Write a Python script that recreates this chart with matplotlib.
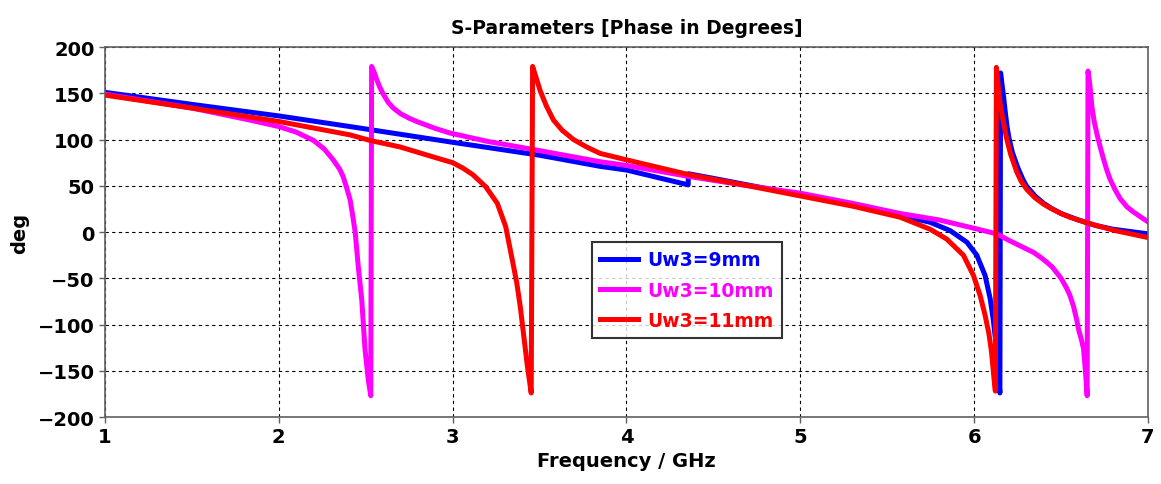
import matplotlib.pyplot as plt

# Uw3 = 9 mm
f_9 = [1.0, 1.5, 2.0, 2.41, 3.0, 3.5, 3.848, 4.0, 4.355, 4.356, 4.5, 5.0, 5.3, 5.574,
       5.747, 5.862, 5.958, 6.015, 6.063, 6.092, 6.11, 6.125, 6.138, 6.148, 6.152,
       6.16, 6.17, 6.18, 6.19, 6.2, 6.22, 6.25, 6.28, 6.3, 6.35, 6.4, 6.45, 6.5,
       6.6, 6.7, 6.8, 7.0]
ph_9 = [151, 138, 125.5, 114, 97, 83, 71, 67, 51, 63, 58, 40, 29, 18,
        10.5, 1.5, -11, -25, -47, -72, -95, -120, -150, -174, 172,
        160, 145, 128, 113, 102, 86, 70, 57, 50, 39, 31, 25, 20,
        13, 7, 3, -2]

# Uw3 = 10 mm
f_10 = [1.0, 1.5, 1.834, 2.0, 2.1, 2.2, 2.26, 2.313, 2.35, 2.37, 2.39, 2.41, 2.425,
        2.44, 2.457, 2.477, 2.496, 2.515, 2.529, 2.534, 2.55, 2.563, 2.58, 2.601,
        2.63, 2.659, 2.7, 2.75, 2.8, 2.9, 2.985, 3.2, 3.5, 3.848, 4.0, 4.36, 4.7,
        5.0, 5.3, 5.574, 5.8, 6.0, 6.13, 6.2, 6.341, 6.38, 6.42, 6.45, 6.475, 6.5,
        6.53, 6.55, 6.571, 6.59, 6.6, 6.615, 6.629, 6.64, 6.65, 6.655, 6.665, 6.677,
        6.69, 6.705, 6.725, 6.744, 6.763, 6.782, 6.81, 6.84, 6.88, 6.917, 6.96, 7.0]
ph_10 = [149, 134, 121, 114, 108, 99, 90, 78, 68, 60, 48, 35, 18,
         -1, -37, -73, -127, -160, -177, 179, 172, 165, 157, 149,
         140, 134, 128, 123, 119, 112, 107, 98, 88, 76, 72, 60, 50,
         42, 31, 20, 13, 4, -2, -9, -22, -27, -33, -38, -44, -50,
         -60, -68, -80, -95, -105, -115, -126, -150, -177, 174, 160, 136,
         120, 107, 92, 79, 67, 57, 46, 36, 27, 21.6, 16, 11]

# Uw3 = 11 mm
f_11 = [1.0, 1.5, 2.0, 2.41, 2.525, 2.697, 2.927, 3.0, 3.06, 3.116, 3.19, 3.257,
        3.305, 3.343, 3.369, 3.39, 3.407, 3.43, 3.452, 3.46, 3.475,
        3.49, 3.503, 3.54, 3.58, 3.63, 3.695, 3.77, 3.848, 4.0, 4.36, 4.7, 5.0, 5.3,
        5.574, 5.747, 5.842, 5.938, 5.996, 6.035, 6.063, 6.085, 6.1, 6.115,
        6.122, 6.128, 6.14, 6.15, 6.17, 6.188, 6.21, 6.245, 6.27, 6.303, 6.35, 6.4,
        6.437, 6.5, 6.55, 6.648, 6.8, 7.0]
ph_11 = [148, 134, 119.5, 105, 99, 92, 79, 75, 69, 62, 49, 31,
         6, -30, -55, -82, -109, -145, -174, 179, 170,
         161, 153, 136, 121, 110, 100, 92, 85, 78, 62, 50, 39, 28,
         16, 3, -7.6, -25, -47, -69, -90, -110, -130, -160,
         -172, 178, 155, 138, 117, 100, 84, 65, 55, 46, 37, 30,
         26, 20, 16, 10, 2, -6]

labels = ["Uw3=9mm", "Uw3=10mm", "Uw3=11mm"]
colors = ["#0000ff", "#ff00ff", "#ff0000"]

fig = plt.figure(figsize=(11.61, 4.85), dpi=100)
ax = fig.add_axes([0.0904, 0.1381, 0.8984, 0.7629])

ax.plot(f_9, ph_9, color=colors[0], lw=3.6, label=labels[0], solid_joinstyle='round')
ax.plot(f_10, ph_10, color=colors[1], lw=3.6, label=labels[1], solid_joinstyle='round')
ax.plot(f_11, ph_11, color=colors[2], lw=3.6, label=labels[2], solid_joinstyle='round')

ax.set_xlim(1, 7)
ax.set_ylim(-200, 200)
ax.set_xticks(range(1, 8))
ax.set_yticks(range(-200, 201, 50))
ax.grid(True, color='black', linestyle=(0, (3, 3)), linewidth=0.8)
ax.set_axisbelow(True)
for s in ax.spines.values():
    s.set_color('#606060')
    s.set_linewidth(1.2)
ax.tick_params(length=4, width=1, color='#606060', labelsize=14)
for t in ax.get_xticklabels() + ax.get_yticklabels():
    t.set_fontweight('bold')

ax.set_xlabel("Frequency / GHz", fontsize=14, fontweight='bold', labelpad=3)
ax.set_ylabel("deg", fontsize=14, fontweight='bold', labelpad=6)
ax.set_title("S-Parameters [Phase in Degrees]", fontsize=13.5, fontweight='bold', pad=10)

leg = ax.legend(loc='upper left', bbox_to_anchor=(0.467, 0.473),
                prop={'weight': 'bold', 'size': 13.5}, frameon=True, fancybox=False,
                handlelength=2.0, handletextpad=0.5, borderpad=0.45, labelspacing=0.6,
                borderaxespad=0)
leg.get_frame().set_edgecolor('black')
leg.get_frame().set_linewidth(1.5)
for txt, c in zip(leg.get_texts(), colors):
    txt.set_color(c)

fig.savefig("out.png", dpi=100)
